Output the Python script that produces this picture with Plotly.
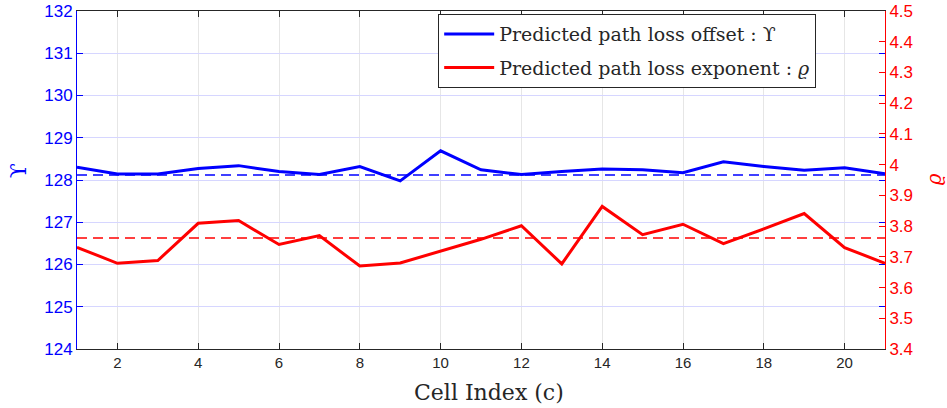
import plotly.graph_objects as go

cells = list(range(1, 22))
offset_vals = [128.30, 128.14, 128.14, 128.27, 128.34, 128.20, 128.13, 128.32, 127.98, 128.69,
               128.24, 128.13, 128.20, 128.26, 128.24, 128.17, 128.43, 128.32, 128.23, 128.29, 128.15]
exponent_vals = [3.731, 3.679, 3.688, 3.809, 3.818, 3.740, 3.769, 3.670, 3.680, 3.719,
                 3.757, 3.801, 3.677, 3.864, 3.772, 3.806, 3.743, 3.791, 3.841, 3.730, 3.679]
offset_ref = 128.12
exponent_ref = 3.761
x_ticks = list(range(2, 21, 2))
y_ticks = list(range(124, 133))
y2_ticks = [round(3.4 + 0.1 * i, 1) for i in range(12)]

BLUE = "#0000ff"
RED = "#ff0000"
SERIF = "DejaVu Serif, Liberation Serif, serif"
SANS = "Liberation Sans, Arial, sans-serif"
DARK = "#262626"

fig = go.Figure()
fig.add_trace(go.Scatter(x=cells, y=offset_vals, mode="lines",
                         line=dict(color=BLUE, width=3),
                         name="Predicted path loss offset : \u03d2",
                         legendgroup="a", yaxis="y"))
fig.add_trace(go.Scatter(x=cells, y=exponent_vals, mode="lines",
                         line=dict(color=RED, width=3),
                         name="Predicted path loss exponent : <i>\u03f1</i>",
                         legendgroup="b", yaxis="y2"))
fig.add_trace(go.Scatter(x=[cells[0], cells[-1]], y=[offset_ref, offset_ref], mode="lines",
                         line=dict(color=BLUE, width=1.5, dash="10px,6px"),
                         showlegend=False, yaxis="y"))
fig.add_trace(go.Scatter(x=[cells[0], cells[-1]], y=[exponent_ref, exponent_ref], mode="lines",
                         line=dict(color=RED, width=1.5, dash="10px,6px"),
                         showlegend=False, yaxis="y2"))

fig.update_layout(
    width=947, height=408,
    margin=dict(l=77, r=62, t=11, b=59, autoexpand=False),
    paper_bgcolor="white", plot_bgcolor="white",
    hovermode=False,
    showlegend=True,
    legend=dict(x=0.447, y=0.991, xanchor="left", yanchor="top",
                bgcolor="white", bordercolor=DARK, borderwidth=1,
                font=dict(family=SERIF, size=19, color=DARK),
                itemwidth=50,
                traceorder="grouped", tracegroupgap=6),
    xaxis=dict(range=[1, 21], tickvals=x_ticks, ticks="inside", ticklen=6,
               tickcolor=DARK, showline=True, linecolor=DARK, linewidth=1,
               mirror="ticks", showgrid=True, gridcolor="#e6e6e6", zeroline=False,
               automargin=False,
               tickfont=dict(family=SANS, size=15, color=DARK)),
    yaxis=dict(range=[124, 132], tickvals=y_ticks, ticks="inside", ticklen=6,
               tickcolor=BLUE, showline=True, linecolor=BLUE, linewidth=1,
               mirror="ticks", automargin=False,
               showgrid=True, gridcolor="#d6d6ff", zeroline=False,
               tickfont=dict(family=SANS, size=17, color=BLUE)),
    yaxis2=dict(range=[3.4, 4.5], tickvals=y2_ticks, ticktext=[("%g" % v) for v in y2_ticks],
                overlaying="y", side="right", ticks="inside", ticklen=6,
                tickcolor=RED, showline=True, linecolor=RED, linewidth=1,
                showgrid=False, zeroline=False, automargin=False,
                tickfont=dict(family=SANS, size=17, color=RED)),
    annotations=[
        dict(text="Cell Index (c)", xref="paper", yref="paper", x=0.51, y=-0.128,
             xanchor="center", yanchor="middle", showarrow=False,
             font=dict(family=SERIF, size=22, color=DARK)),
        dict(text="\u03d2", xref="paper", yref="paper", x=-0.073, y=0.526,
             xanchor="center", yanchor="middle", showarrow=False, textangle=-90,
             font=dict(family=SERIF, size=22, color=BLUE)),
        dict(text="<i>\u03f1</i>", xref="paper", yref="paper", x=1.061, y=0.503,
             xanchor="center", yanchor="middle", showarrow=False, textangle=-90,
             font=dict(family=SERIF, size=20, color=RED)),
    ],
)

fig.write_html("out.html")
